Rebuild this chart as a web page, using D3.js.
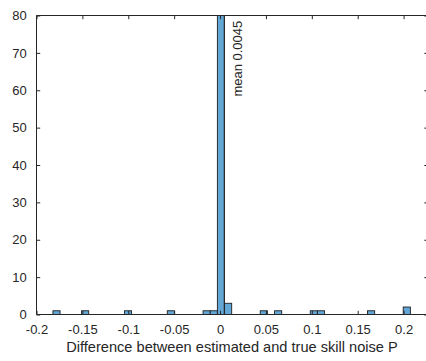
<!DOCTYPE html>
<html>
<head>
<meta charset="utf-8">
<script src="https://cdn.jsdelivr.net/npm/d3@7"></script>
<style>
  html, body { margin: 0; padding: 0; background: #fff; }
  svg { display: block; }
  text { font-family: "Liberation Sans", Arial, Helvetica, sans-serif; fill: #262626; }
</style>
</head>
<body>
<svg id="chart" width="426" height="361"></svg>
<script>
// ---- data ----
const binWidth = 0.00779;
const binStarts = [-0.1821, -0.1509, -0.1042, -0.0575, -0.0185, -0.0107, -0.0029, 0.0049, 0.0438, 0.0594, 0.0983, 0.1061, 0.1607, 0.1996];
const counts    = [1, 1, 1, 1, 1, 1, 83, 3, 1, 1, 1, 1, 1, 2];
const xTicks = [-0.2, -0.15, -0.1, -0.05, 0, 0.05, 0.1, 0.15, 0.2];
const xTickLabels = ["-0.2", "-0.15", "-0.1", "-0.05", "0", "0.05", "0.1", "0.15", "0.2"];
const yTicks = [0, 10, 20, 30, 40, 50, 60, 70, 80];
const meanValue = 0.0045;
const meanLabel = "mean 0.0045";
const xLabel = "Difference between estimated and true skill noise P";

// ---- layout ----
(function () {
const svg = d3.select("#chart");
const mLeft = 36.5, mRight = 428, mTop = 15.5, mBottom = 314.5;
const x = d3.scaleLinear().domain([-0.2, 0.2266]).range([mLeft, mRight]);
const y = d3.scaleLinear().domain([0, 80]).range([mBottom, mTop]);
const axisColor = "#262626";
const tickLen = 3.7;

svg.append("defs").append("clipPath").attr("id", "plotclip")
  .append("rect").attr("x", mLeft).attr("y", mTop).attr("width", mRight - mLeft).attr("height", mBottom - mTop);

const bins = binStarts.map((s, i) => ({ x0: s, x1: s + binWidth, n: counts[i] }));

svg.append("g").attr("clip-path", "url(#plotclip)")
  .selectAll("rect").data(bins).join("rect")
  .attr("x", d => x(d.x0))
  .attr("width", d => x(d.x1) - x(d.x0))
  .attr("y", d => y(d.n))
  .attr("height", d => y(0) - y(d.n))
  .attr("fill", "#62a7d6")
  .attr("stroke", "#1f1f1f")
  .attr("stroke-width", 0.9);

// mean line
svg.append("line")
  .attr("x1", x(meanValue)).attr("x2", x(meanValue))
  .attr("y1", mBottom).attr("y2", mTop)
  .attr("stroke", axisColor).attr("stroke-width", 0.8);

svg.append("text")
  .attr("transform", `translate(${x(meanValue) + 18},${mTop + 5.2}) rotate(-90)`)
  .attr("text-anchor", "end")
  .attr("font-size", 13)
  .text(meanLabel);

// axes (MATLAB-style box with inward ticks)
const gx = svg.append("g").attr("transform", `translate(0,${mBottom})`)
  .call(d3.axisBottom(x).tickValues(xTicks).tickSize(-tickLen).tickPadding(tickLen + 7)
    .tickFormat((d, i) => xTickLabels[i]));
const gxTop = svg.append("g").attr("transform", `translate(0,${mTop})`)
  .call(d3.axisTop(x).tickValues(xTicks).tickSize(-tickLen).tickFormat(""));
const gy = svg.append("g").attr("transform", `translate(${mLeft},0)`)
  .call(d3.axisLeft(y).tickValues(yTicks).tickSize(-tickLen).tickPadding(tickLen + 6));
const gyRight = svg.append("g").attr("transform", `translate(${mRight},0)`)
  .call(d3.axisRight(y).tickValues(yTicks).tickSize(-tickLen).tickFormat(""));

[gx, gxTop, gy, gyRight].forEach(g => {
  g.select(".domain").attr("stroke", axisColor).attr("stroke-width", 1);
  g.selectAll(".tick line").attr("stroke", axisColor).attr("stroke-width", 1);
  g.selectAll(".tick text").attr("font-size", 13).attr("fill", axisColor)
    .style("font-family", '"Liberation Sans", Arial, Helvetica, sans-serif');
});
gx.selectAll(".domain").attr("d", `M${mLeft},0H${mRight}`);
gxTop.selectAll(".domain").attr("d", `M${mLeft},0H${mRight}`);
gy.selectAll(".domain").attr("d", `M0,${mTop}V${mBottom}`);
gyRight.selectAll(".domain").attr("d", `M0,${mTop}V${mBottom}`);

svg.append("text")
  .attr("x", (67 + 397) / 2)
  .attr("y", 351.5)
  .attr("text-anchor", "middle")
  .attr("font-size", 14.6)
  .text(xLabel);
})();
</script>
</body>
</html>
